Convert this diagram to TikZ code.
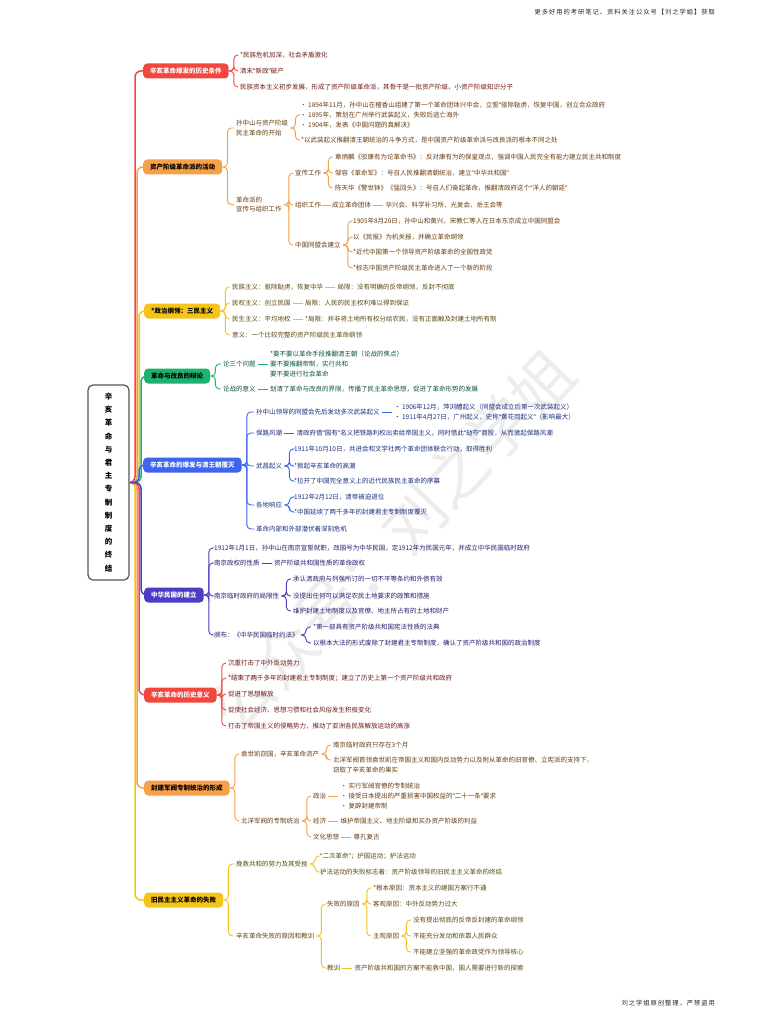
\documentclass[tikz,border=0pt]{standalone}
\usepackage{fontspec}
\setmainfont{Noto Sans CJK SC}
\newfontfamily\qfont{Noto Sans}
\newcommand\oq{{\qfont “}}
\newcommand\cq{{\qfont ”}}
\usetikzlibrary{positioning}
\definecolor{cR}{HTML}{F2473F}
\definecolor{cO}{HTML}{F7A04A}
\definecolor{cY}{HTML}{F5C41A}
\definecolor{cG}{HTML}{1DB270}
\definecolor{cB}{HTML}{3E64F0}
\definecolor{cI}{HTML}{4A3CC4}
\definecolor{tR}{HTML}{6E1A1A}
\definecolor{tO}{HTML}{6A3C10}
\definecolor{tY}{HTML}{5A4810}
\definecolor{tG}{HTML}{0E5436}
\definecolor{tB}{HTML}{1C2E7E}
\definecolor{tI}{HTML}{281E6E}
\definecolor{rootline}{HTML}{555555}
\definecolor{wm}{HTML}{EDEDED}
\newcommand\fs{\fontsize{6.5}{9.7}\selectfont}
\newcommand\mmbrk[3]{\foreach \c in {#3}{\draw[ln,#1] (#2.east) -- ++(5,0) |- (\c.west);}}
\newcommand\mmlink[3]{\draw[ln,#1] (#2.east) -- (#3.west);}
\tikzset{
  txt/.style={anchor=west, inner xsep=2pt, inner ysep=0.5pt, font=\fs, align=left},
  mainbox/.style={anchor=west, rounded corners=4pt, minimum height=15pt, inner xsep=7pt, inner ysep=0pt, font=\fs\bfseries},
  ln/.style={line width=0.9pt, rounded corners=4pt},
  trunk/.style={line width=1.5pt, rounded corners=6pt},
  rootbox/.style={draw=rootline, line width=1.2pt, fill=white, rounded corners=5pt, minimum width=41pt, minimum height=195pt, align=center, font=\fontsize{7.5}{13.2}\selectfont\bfseries, inner sep=0pt},
  cornertxt/.style={anchor=east, inner sep=0pt, font=\fontsize{6.3}{8}\selectfont\addfontfeature{LetterSpace=15}, text=black!85}
}
\begin{document}
\begin{tikzpicture}[x=1pt,y=1pt]
\useasboundingbox (0,0) rectangle (768,-1024);
\fill[white] (0,0) rectangle (768,-1024);

% watermark
\node[rotate=46.5, text=wm, font=\fontsize{62}{62}\selectfont, inner sep=0pt] (wmark) at (392,-541) {公众号：刘之学姐};

\node[cornertxt] (hdr) at (715,-12) {更多好用的考研笔记、资料关注公众号【刘之学姐】获取};
\node[cornertxt] (ftr) at (715,-1003) {刘之学姐原创整理，严禁盗用};

% root
\node[rootbox] (root) at (108.5,-482.5) {辛\\亥\\革\\命\\与\\君\\主\\专\\制\\制\\度\\的\\终\\结};

% main nodes
\node[mainbox, fill=cR, text=white] (m1) at (143,-71) {辛亥革命爆发的历史条件};
\node[mainbox, fill=cO, text=black] (m2) at (143,-167) {资产阶级革命派的活动};
\node[mainbox, fill=cY, text=black] (m3) at (144,-311) {*政治纲领：三民主义};
\node[mainbox, fill=cG, text=black] (m4) at (144,-376) {革命与改良的辩论};
\node[mainbox, fill=cB, text=white] (m5) at (143,-465) {辛亥革命的爆发与清王朝覆灭};
\node[mainbox, fill=cI, text=white] (m6) at (144,-595) {中华民国的建立};
\node[mainbox, fill=cR, text=white] (m7) at (144,-695) {辛亥革命的历史意义};
\node[mainbox, fill=cO, text=black] (m8) at (144,-788) {封建军阀专制统治的形成};
\node[mainbox, fill=cY, text=black] (m9) at (144,-900) {旧民主主义革命的失败};

% trunks
\draw[trunk,cR] (root.east) -- (135,-482.5) |- (m1.west);
\draw[trunk,cO] (root.east) -- (137,-482.5) |- (m2.west);
\draw[trunk,cY] (root.east) -- (139,-482.5) |- (m3.west);
\draw[trunk,cG] (root.east) -- (141,-482.5) |- (m4.west);
\draw[trunk,cB] (root.east) -- (139,-482.5) |- (m5.west);
\draw[trunk,cY] (root.east) -- (135,-482.5) |- (m9.west);
\draw[trunk,cO] (root.east) -- (137,-482.5) |- (m8.west);
\draw[trunk,cR] (root.east) -- (139,-482.5) |- (m7.west);
\draw[trunk,cI] (root.east) -- (141,-482.5) |- (m6.west);

% ---------- branch 1
\begin{scope}[every node/.style={txt, text=tR}]
\node (a1) at (238,-55) {*民族危机加深，社会矛盾激化};
\node (a2) at (238,-71) {清末\oq 新政\cq 破产};
\node (a3) at (238,-87) {民族资本主义初步发展，形成了资产阶级革命派，其骨干是一批资产阶级、小资产阶级知识分子};
\end{scope}
\mmbrk{cR}{m1}{a1,a2,a3}

% ---------- branch 2
\begin{scope}[every node/.style={txt, text=tO}]
\node[align=left] (b1) at (234,-128) {孙中山与资产阶级\\民主革命的开始};
\node (b11) at (298,-115) {· 1894年11月，孙中山在檀香山组建了第一个革命团体兴中会，立誓\oq 驱除鞑虏，恢复中国，创立合众政府\\· 1895年，策划在广州举行武装起义，失败后逃亡海外\\· 1904年，发表《中国问题的真解决》};
\node (b12) at (299,-140) {*以武装起义推翻清王朝统治的斗争方式，是中国资产阶级革命派与改良派的根本不同之处};
\node (b2) at (234,-204.5) {革命派的\\宣传与组织工作};
\node (c1) at (293,-173) {宣传工作};
\node (c11) at (333,-157) {章炳麟《驳康有为论革命书》：反对康有为的保皇观点，强调中国人民完全有能力建立民主共和制度};
\node (c12) at (333,-173) {邹容《革命军》：号召人民推翻清朝统治，建立\oq 中华共和国\cq};
\node (c13) at (333,-188) {陈天华《警世钟》《猛回头》：号召人们奋起革命，推翻清政府这个\oq 洋人的朝廷\cq};
\node (c2) at (293,-205) {组织工作——成立革命团体};
\node[right=10pt of c2] (c21) {华兴会、科学补习所、光复会、岳王会等};
\node (c3) at (293,-245) {中国同盟会建立};
\node (c31) at (351,-221) {1905年8月20日，孙中山和黄兴、宋教仁等人在日本东京成立中国同盟会};
\node (c32) at (351,-237) {以《民报》为机关报，并确立革命纲领};
\node (c33) at (351,-252) {*近代中国第一个领导资产阶级革命的全国性政党};
\node (c34) at (351,-268) {*标志中国资产阶级民主革命进入了一个新的阶段};
\end{scope}
\mmbrk{cO}{m2}{b1,b2}
\mmbrk{cO}{b1}{b11,b12}
\mmbrk{cO}{b2}{c1,c2,c3}
\mmbrk{cO}{c1}{c11,c12,c13}
\mmlink{cO}{c2}{c21}
\mmbrk{cO}{c3}{c31,c32,c33,c34}

% ---------- branch 3
\begin{scope}[every node/.style={txt, text=tY}]
\node (d1) at (230,-287) {民族主义：驱除鞑虏，恢复中华};
\node[right=10pt of d1] (d1b) {局限：没有明确的反帝纲领，反封不彻底};
\node (d2) at (230,-303) {民权主义：创立民国};
\node[right=10pt of d2] (d2b) {局限：人民的民主权利难以得到保证};
\node (d3) at (230,-319) {民生主义：平均地权};
\node[right=10pt of d3] (d3b) {*局限：并非将土地所有权分给农民，没有正面触及封建土地所有制};
\node (d4) at (230,-335) {意义：一个比较完整的资产阶级民主革命纲领};
\end{scope}
\mmbrk{cY}{m3}{d1,d2,d3,d4}
\mmlink{cY}{d1}{d1b}
\mmlink{cY}{d2}{d2b}
\mmlink{cY}{d3}{d3b}

% ---------- branch 4
\begin{scope}[every node/.style={txt, text=tG}]
\node (e1) at (221,-364) {论三个问题};
\node[right=10pt of e1] (e1b) {*要不要以革命手段推翻清王朝（论战的焦点）\\要不要推翻帝制，实行共和\\要不要进行社会革命};
\node (e2) at (221,-389) {论战的意义};
\node[right=10pt of e2] (e2b) {划清了革命与改良的界限，传播了民主革命思想，促进了革命形势的发展};
\end{scope}
\mmbrk{cG}{m4}{e1,e2}
\mmlink{cG}{e1}{e1b}
\mmlink{cG}{e2}{e2b}

% ---------- branch 5
\begin{scope}[every node/.style={txt, text=tB}]
\node (f1) at (254,-412) {孙中山领导的同盟会先后发动多次武装起义};
\node[right=10pt of f1] (f1b) {· 1906年12月，萍浏醴起义（同盟会成立后第一次武装起义）\\· 1911年4月27日，广州起义，史称\oq 黄花岗起义\cq（影响最大）};
\node (f2) at (254,-433) {保路风潮};
\node[right=10pt of f2] (f2b) {清政府借\oq 国有\cq 名义把铁路利权出卖给帝国主义，同时借此\oq 劫夺\cq 商股，从而激起保路风潮};
\node (f3) at (254,-466) {武昌起义};
\node (f31) at (292,-449) {1911年10月10日，共进会和文学社两个革命团体联合行动，取得胜利};
\node (f32) at (292,-466) {*掀起辛亥革命的高潮};
\node (f33) at (292,-481) {*拉开了中国完全意义上的近代民族民主革命的序幕};
\node (f4) at (254,-505) {各地响应};
\node (f41) at (292,-497) {1912年2月12日，清帝被迫退位};
\node (f42) at (292,-512) {*中国延续了两千多年的封建君主专制制度覆灭};
\node (f5) at (254,-529) {革命内部和外部潜伏着深刻危机};
\end{scope}
\mmbrk{cB}{m5}{f1,f2,f3,f4,f5}
\mmlink{cB}{f1}{f1b}
\mmlink{cB}{f2}{f2b}
\mmbrk{cB}{f3}{f31,f32,f33}
\mmbrk{cB}{f4}{f41,f42}

% ---------- branch 6
\begin{scope}[every node/.style={txt, text=tI}]
\node (g1) at (212,-548) {1912年1月1日，孙中山在南京宣誓就职，改国号为中华民国，定1912年为民国元年，并成立中华民国临时政府};
\node (g2) at (212,-563) {南京政权的性质};
\node[right=10pt of g2] (g2b) {资产阶级共和国性质的革命政权};
\node (g3) at (212,-596) {南京临时政府的局限性};
\node (g31) at (291,-579) {承认清政府与列强所订的一切不平等条约和外债有效};
\node (g32) at (291,-596) {没提出任何可以满足农民土地要求的政策和措施};
\node (g33) at (291,-611) {维护封建土地制度以及官僚、地主所占有的土地和财产};
\node (g4) at (212,-635) {颁布：《中华民国临时约法》};
\node (g41) at (311,-627) {*第一部具有资产阶级共和国宪法性质的法典};
\node (g42) at (311,-643) {以根本大法的形式废除了封建君主专制制度，确认了资产阶级共和国的政治制度};
\end{scope}
\mmbrk{cI}{m6}{g1,g2,g3,g4}
\mmlink{cI}{g2}{g2b}
\mmbrk{cI}{g3}{g31,g32,g33}
\mmbrk{cI}{g4}{g41,g42}

% ---------- branch 7
\begin{scope}[every node/.style={txt, text=tR}]
\node (h1) at (226,-663) {沉重打击了中外反动势力};
\node (h2) at (226,-678) {*结束了两千多年的封建君主专制制度；建立了历史上第一个资产阶级共和政府};
\node (h3) at (226,-694) {促进了思想解放};
\node (h4) at (226,-710) {促使社会经济、思想习惯和社会风俗发生积极变化};
\node (h5) at (226,-726) {打击了帝国主义的侵略势力，推动了亚洲各民族解放运动的高涨};
\end{scope}
\mmbrk{cR}{m7}{h1,h2,h3,h4,h5}

% ---------- branch 8
\begin{scope}[every node/.style={txt, text=tO}]
\node (i1) at (239,-754) {袁世凯窃国，辛亥革命流产};
\node (i11) at (331,-745) {南京临时政府只存在3个月};
\node (i12) at (331,-760) {北洋军阀首领袁世凯在帝国主义和国内反动势力以及附从革命的旧官僚、立宪派的支持下，};
\node (i12b) at (331,-769.5) {窃取了辛亥革命的果实};
\node (i2) at (239,-821) {北洋军阀的专制统治};
\node (i21) at (311,-796) {政治};
\node[right=10pt of i21] (i21b) {· 实行军阀官僚的专制统治\\· 接受日本提出的严重损害中国权益的\oq 二十一条\cq 要求\\· 复辟封建帝制};
\node (i22) at (311,-821) {经济};
\node[right=10pt of i22] (i22b) {维护帝国主义、地主阶级和买办资产阶级的利益};
\node (i23) at (311,-837) {文化思想};
\node[right=10pt of i23] (i23b) {尊孔复古};
\end{scope}
\mmbrk{cO}{m8}{i1,i2}
\mmbrk{cO}{i1}{i11,i12}
\mmbrk{cO}{i2}{i21,i22,i23}
\mmlink{cO}{i21}{i21b}
\mmlink{cO}{i22}{i22b}
\mmlink{cO}{i23}{i23b}

% ---------- branch 9
\begin{scope}[every node/.style={txt, text=tY}]
\node (j1) at (234,-864) {挽救共和的努力及其受挫};
\node (j11) at (318,-856) {\oq 二次革命\cq；护国运动；护法运动};
\node (j12) at (318,-872) {护法运动的失败标志着：资产阶级领导的旧民主主义革命的终结};
\node (j2) at (234,-936) {辛亥革命失败的原因和教训};
\node (j21) at (325,-904) {失败的原因};
\node (j211) at (371,-888) {*根本原因：资本主义的建国方案行不通};
\node (j212) at (371,-904) {客观原因：中外反动势力过大};
\node (j213) at (371,-936) {主观原因};
\node (j2131) at (411,-920) {没有提出彻底的反帝反封建的革命纲领};
\node (j2132) at (411,-936) {不能充分发动和依靠人民群众};
\node (j2133) at (411,-952) {不能建立坚强的革命政党作为领导核心};
\node (j22) at (325,-968) {教训};
\node[right=10pt of j22] (j22b) {资产阶级共和国的方案不能救中国，国人需要进行新的探索};
\end{scope}
\mmbrk{cY}{m9}{j1,j2}
\mmbrk{cY}{j1}{j11,j12}
\mmbrk{cY}{j2}{j21,j22}
\mmbrk{cY}{j21}{j211,j212,j213}
\mmbrk{cY}{j213}{j2131,j2132,j2133}
\mmlink{cY}{j22}{j22b}

\end{tikzpicture}
\end{document}
